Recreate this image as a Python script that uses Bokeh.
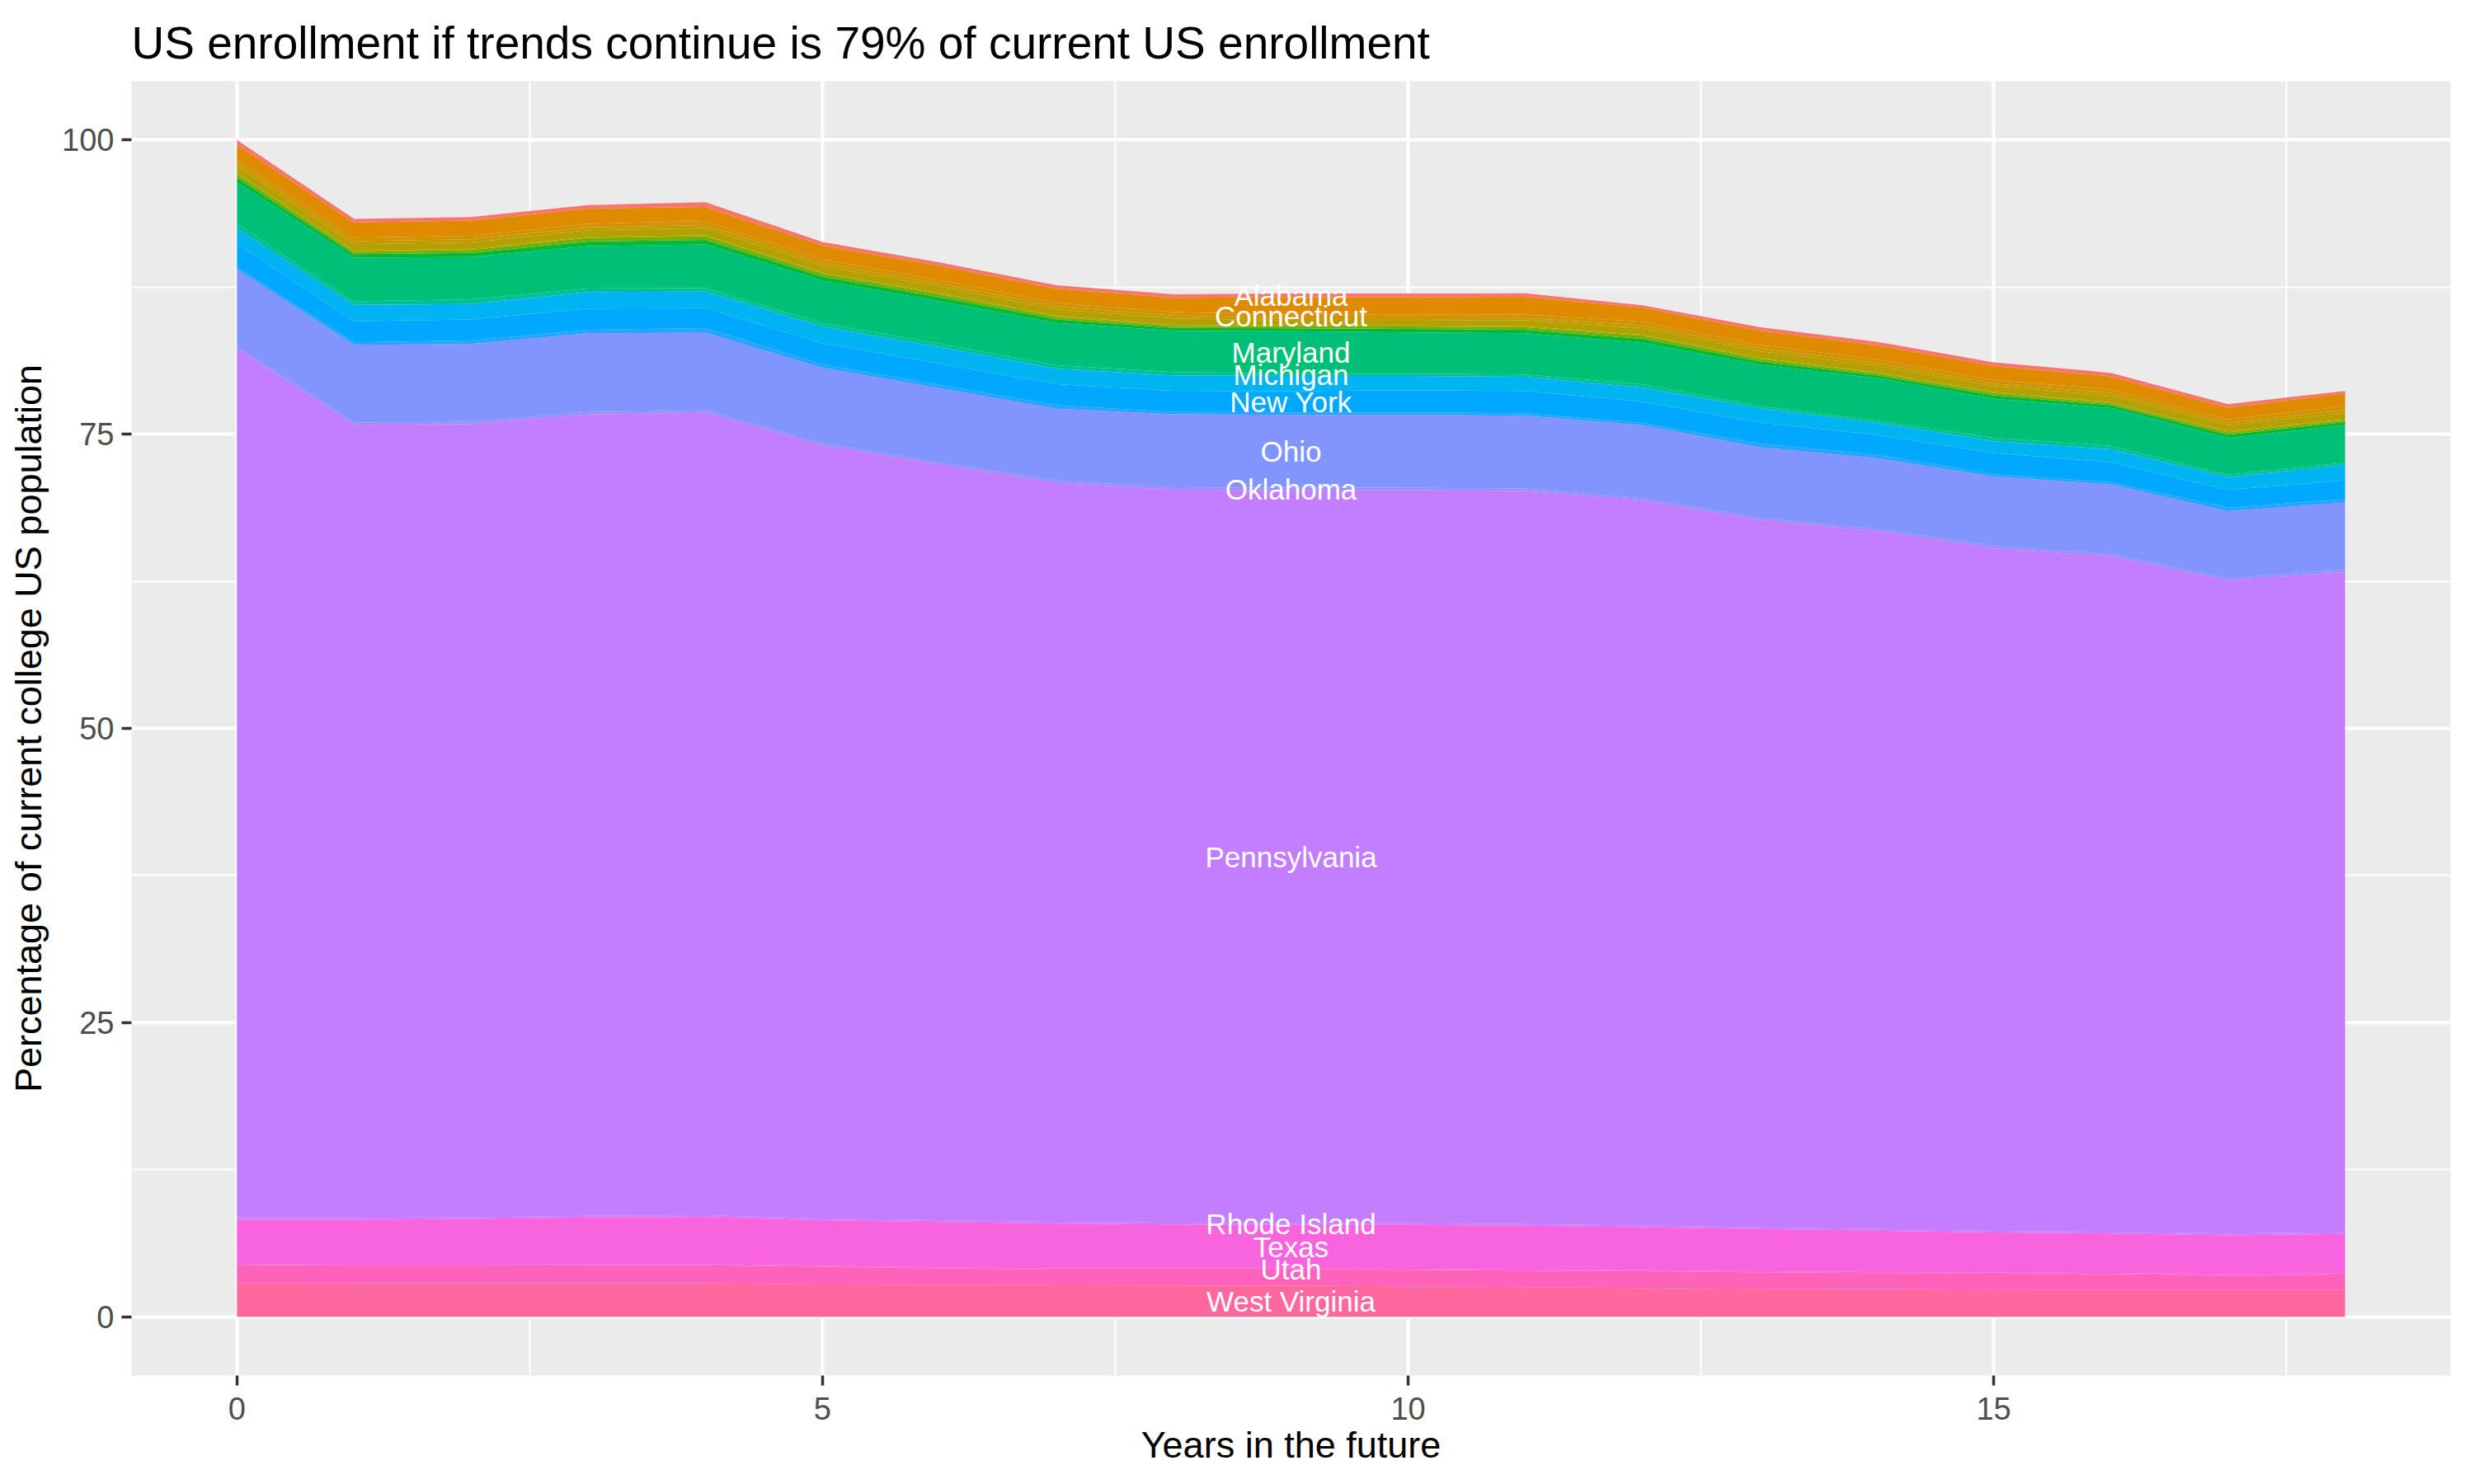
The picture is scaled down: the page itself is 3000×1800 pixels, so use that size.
import math
from bokeh.plotting import figure
from bokeh.models import ColumnDataSource, Range1d, FixedTicker
from bokeh.embed import file_html
from bokeh.resources import INLINE
from bokeh.core.properties import value

# ---------------- data ----------------
years = list(range(19))

# factor levels used by the colour scale (alphabetical, like ggplot)
all_levels = ["Alabama", "Alaska", "Arizona", "Arkansas", "California", "Colorado",
              "Connecticut", "Delaware", "District of Columbia", "Florida", "Georgia",
              "Hawaii", "Idaho", "Illinois", "Indiana", "Iowa", "Kansas", "Kentucky",
              "Louisiana", "Maine", "Maryland", "Massachusetts", "Michigan", "Minnesota",
              "Mississippi", "Missouri", "Montana", "Nebraska", "Nevada", "New Hampshire",
              "New Jersey", "New Mexico", "New York", "North Carolina", "North Dakota",
              "Ohio", "Oklahoma", "Oregon", "Pennsylvania", "Rhode Island",
              "South Carolina", "South Dakota", "Tennessee", "Texas", "Utah", "Vermont",
              "Virginia", "Washington", "West Virginia", "Wisconsin", "Wyoming"]

alabama = [0.4, 0.3, 0.3, 0.3, 0.4, 0.3, 0.3, 0.3, 0.3, 0.3, 0.3, 0.3, 0.2, 0.3, 0.3, 0.3, 0.3, 0.3, 0.2]
california = [1.2, 1.3, 1.3, 1.3, 1.2, 1.2, 1.2, 1.2, 1.2, 1.5, 1.5, 1.5, 1.2, 1.2, 1.2, 1.2, 1.1, 1.0, 1.1]
connecticut = [0.35, 0.3, 0.3, 0.3, 0.35, 0.3, 0.3, 0.3, 0.3, 0.3, 0.3, 0.3, 0.3, 0.3, 0.3, 0.3, 0.3, 0.3, 0.3]
delaware = [0.25, 0.25, 0.25, 0.25, 0.25, 0.25, 0.25, 0.25, 0.25, 0.2, 0.2, 0.2, 0.25, 0.25, 0.25, 0.2, 0.25, 0.2, 0.25]
florida = [0.6, 0.55, 0.55, 0.55, 0.6, 0.55, 0.55, 0.55, 0.55, 0.4, 0.4, 0.5, 0.55, 0.55, 0.55, 0.5, 0.55, 0.5, 0.55]
georgia = [0.1, 0.1, 0.1, 0.1, 0.1, 0.1, 0.1, 0.1, 0.1, 0.1, 0.1, 0.1, 0.1, 0.1, 0.1, 0.1, 0.1, 0.1, 0.1]
illinois = [0.3, 0.2, 0.25, 0.3, 0.3, 0.25, 0.25, 0.2, 0.15, 0.15, 0.2, 0.2, 0.25, 0.2, 0.15, 0.2, 0.15, 0.2, 0.15]
kentucky = [0.4, 0.3, 0.35, 0.4, 0.4, 0.35, 0.35, 0.3, 0.25, 0.25, 0.3, 0.3, 0.35, 0.3, 0.25, 0.3, 0.25, 0.3, 0.25]
maryland = [3.5, 3.7, 3.6, 3.6, 3.7, 3.6, 3.6, 3.6, 3.5, 3.6, 3.5, 3.5, 3.5, 3.5, 3.6, 3.3, 3.2, 3.1, 3.2]
michigan = [0.4, 0.3, 0.4, 0.3, 0.3, 0.3, 0.3, 0.3, 0.3, 0.2, 0.2, 0.2, 0.3, 0.2, 0.2, 0.3, 0.3, 0.2, 0.2]
new_jersey = [1.3, 1.4, 1.3, 1.4, 1.4, 1.4, 1.4, 1.3, 1.3, 1.3, 1.2, 1.2, 1.2, 1.2, 1.0, 1.0, 1.1, 1.1, 1.3]
new_york = [2.0, 1.8, 1.8, 1.8, 1.7, 1.8, 1.8, 1.8, 1.8, 1.8, 1.9, 1.9, 1.8, 1.8, 1.7, 1.8, 1.7, 1.5, 1.6]
north_carolina = [0.2, 0.2, 0.3, 0.3, 0.4, 0.3, 0.3, 0.3, 0.2, 0.2, 0.2, 0.2, 0.2, 0.3, 0.3, 0.2, 0.2, 0.3, 0.3]
ohio = [6.5, 6.6, 6.6, 6.7, 6.6, 6.4, 6.3, 6.1, 6.2, 6.2, 6.2, 6.2, 6.2, 6.0, 6.0, 5.9, 5.9, 5.7, 5.7]
oklahoma = [0.2, 0.2, 0.2, 0.2, 0.2, 0.2, 0.2, 0.2, 0.2, 0.2, 0.2, 0.2, 0.2, 0.2, 0.2, 0.2, 0.2, 0.2, 0.2]
pennsylvania = [73.9, 67.4, 67.4, 68.1, 68.2, 65.7, 64.2, 62.8, 62.3, 62.3, 62.3, 62.3, 61.6, 60.1, 59.3, 58.0, 57.4, 55.5, 56.1]
rhode_island = [0.15, 0.15, 0.15, 0.15, 0.15, 0.15, 0.15, 0.15, 0.15, 0.15, 0.15, 0.15, 0.15, 0.15, 0.15, 0.15, 0.15, 0.15, 0.15]
texas = [3.75, 3.82, 3.88, 3.96, 4.0, 3.85, 3.85, 3.81, 3.74, 3.7, 3.72, 3.72, 3.65, 3.58, 3.51, 3.4, 3.35, 3.28, 3.35]
utah = [0.1, 0.1, 0.1, 0.1, 0.1, 0.1, 0.1, 0.1, 0.1, 0.1, 0.1, 0.1, 0.1, 0.1, 0.1, 0.1, 0.1, 0.1, 0.1]
virginia = [1.53, 1.49, 1.49, 1.53, 1.53, 1.49, 1.4, 1.32, 1.34, 1.37, 1.39, 1.39, 1.41, 1.39, 1.34, 1.34, 1.33, 1.24, 1.29]
west_virginia = [2.87, 2.84, 2.84, 2.84, 2.84, 2.75, 2.7, 2.68, 2.66, 2.63, 2.59, 2.52, 2.45, 2.38, 2.36, 2.31, 2.29, 2.29, 2.29]

# states drawn, bottom of stack first
stack_states = ["West Virginia", "Virginia", "Utah", "Texas", "Rhode Island", "Pennsylvania",
                "Oklahoma", "Ohio", "North Carolina", "New York", "New Jersey", "Michigan",
                "Maryland", "Kentucky", "Illinois", "Georgia", "Florida", "Delaware",
                "Connecticut", "California", "Alabama"]
stack_values = [west_virginia, virginia, utah, texas, rhode_island, pennsylvania,
                oklahoma, ohio, north_carolina, new_york, new_jersey, michigan,
                maryland, kentucky, illinois, georgia, florida, delaware,
                connecticut, california, alabama]

labelled_states = ["Alabama", "Connecticut", "Maryland", "Michigan", "New York", "Ohio",
                   "Oklahoma", "Pennsylvania", "Rhode Island", "Texas", "Utah", "West Virginia"]
label_year = 9

title_text = "US enrollment if trends continue is 79% of current US enrollment"
x_title = "Years in the future"
y_title = "Percentage of current college US population"
x_ticks = [0, 5, 10, 15]
y_ticks = [0, 25, 50, 75, 100]


# ---------------- ggplot hue palette ----------------
def hcl_hex(h, c=100.0, l=65.0):
    WY, Wu, Wv = 100.0, 0.1978398, 0.4683363
    hr = math.radians(h)
    U, V = c * math.cos(hr), c * math.sin(hr)
    Y = WY * (((l + 16) / 116) ** 3 if l > 7.999592 else l / 903.3)
    u = U / (13 * l) + Wu
    v = V / (13 * l) + Wv
    X = 9.0 * Y * u / (4 * v)
    Z = -X / 3 - 5 * Y + 3 * Y / v

    def g(t):
        return 1.055 * t ** (1 / 2.4) - 0.055 if t > 0.00304 else 12.92 * t
    r = g((3.240479 * X - 1.537150 * Y - 0.498535 * Z) / WY)
    gg = g((-0.969256 * X + 1.875992 * Y + 0.041556 * Z) / WY)
    b = g((0.055648 * X - 0.204043 * Y + 1.057311 * Z) / WY)
    cl = lambda t: int(round(max(0.0, min(1.0, t)) * 255))
    return "#%02X%02X%02X" % (cl(r), cl(gg), cl(b))


n_lev = len(all_levels)
palette = {s: hcl_hex(15 + 360.0 * i / n_lev) for i, s in enumerate(all_levels)}

# ---------------- figure ----------------
FONT = "Liberation Sans"
p = figure(width=2984, height=1784, x_range=Range1d(-0.9, 18.9), y_range=Range1d(-5.0, 105.0),
           output_backend="svg", toolbar_location=None,
           min_border_left=159, min_border_right=13, min_border_top=98, min_border_bottom=116)
p.background_fill_color = "#EBEBEB"
p.border_fill_color = "white"
p.outline_line_color = None

keys = ["s%d" % i for i in range(len(stack_states))]
data = {"x": years}
for k, vals in zip(keys, stack_values):
    data[k] = vals
src = ColumnDataSource(data)
colors = [palette[s] for s in stack_states]
p.varea_stack(stackers=keys, x="x", color=colors, source=src)

# labels at middle of each labelled layer at label_year
idx = years.index(label_year)
cum = 0.0
lab_x, lab_y, lab_t = [], [], []
for s, vals in zip(stack_states, stack_values):
    v = vals[idx]
    if s in labelled_states:
        lab_x.append(label_year)
        lab_y.append(cum + v / 2.0)
        lab_t.append(s)
    cum += v
p.text(x=lab_x, y=lab_y, text=lab_t, text_color="white", text_align="center",
       text_baseline="middle", text_font=value(FONT), text_font_size="35px")

# axes
p.xaxis.ticker = FixedTicker(ticks=x_ticks, minor_ticks=[2.5, 7.5, 12.5, 17.5])
p.yaxis.ticker = FixedTicker(ticks=y_ticks, minor_ticks=[12.5, 37.5, 62.5, 87.5])
for ax in (p.xaxis[0], p.yaxis[0]):
    ax.axis_line_color = None
    ax.major_tick_line_color = "#333333"
    ax.major_tick_line_width = 3.5
    ax.major_tick_out = 12
    ax.major_tick_in = 0
    ax.minor_tick_line_color = None
    ax.major_label_text_font = FONT
    ax.major_label_text_font_size = "38px"
    ax.major_label_text_color = "#4D4D4D"
    ax.axis_label_text_font = FONT
    ax.axis_label_text_font_size = "45px"
    ax.axis_label_text_font_style = "normal"
    ax.axis_label_text_color = "black"
p.yaxis.major_label_standoff = 9
p.xaxis.major_label_standoff = 14
p.xaxis.axis_label = x_title
p.yaxis.axis_label = y_title
p.xaxis.axis_label_standoff = 2
p.yaxis.axis_label_standoff = 12

for gr in (p.xgrid[0], p.ygrid[0]):
    gr.grid_line_color = "white"
    gr.grid_line_width = 4
    gr.minor_grid_line_color = "white"
    gr.minor_grid_line_width = 2

p.title.text = title_text
p.title.text_font = FONT
p.title.text_font_size = "55px"
p.title.text_font_style = "normal"
p.title.text_color = "black"
p.title.align = "left"
p.title.standoff = 32

open("out.html", "w").write(file_html(p, INLINE))
